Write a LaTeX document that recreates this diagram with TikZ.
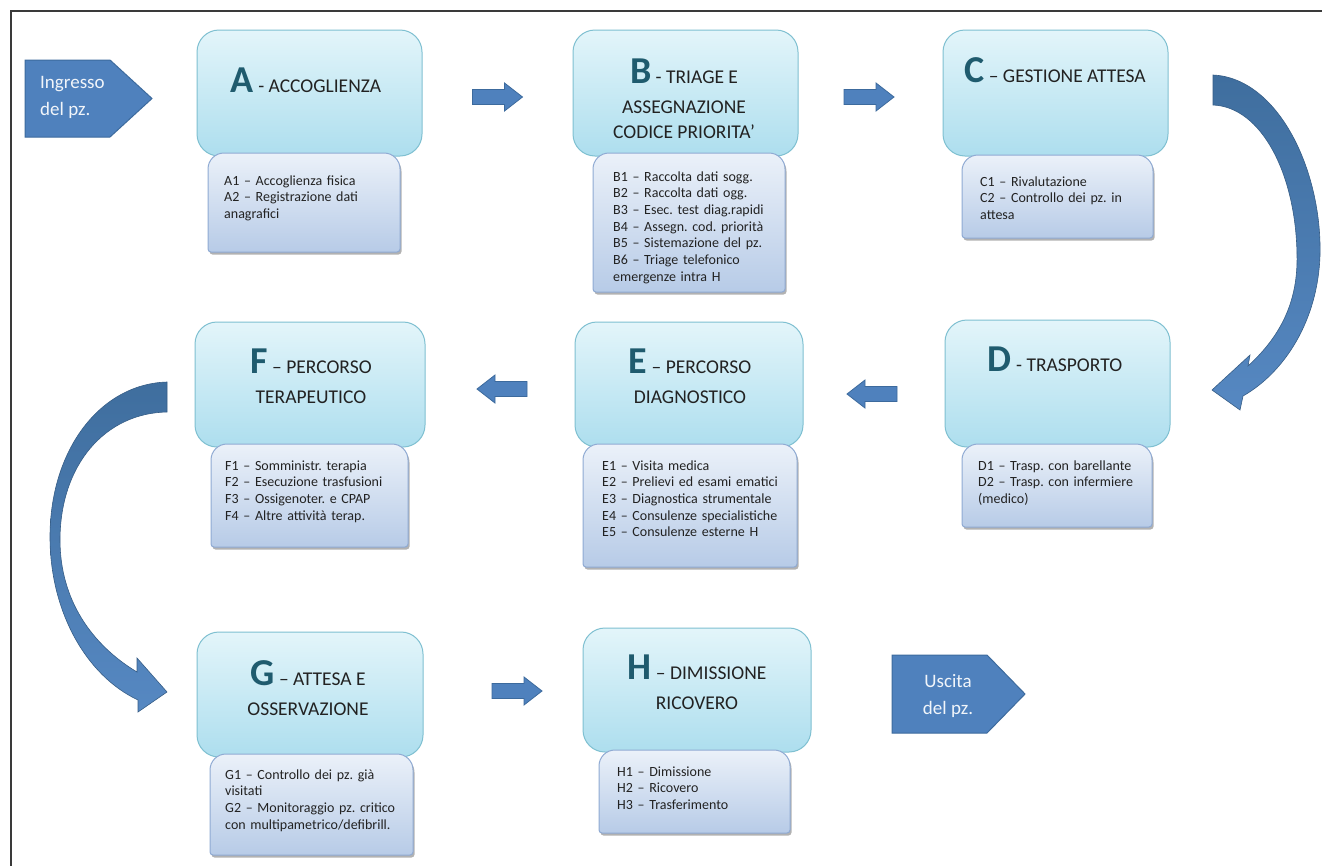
\documentclass[tikz,border=0pt]{standalone}
\usepackage{fontspec}
\setmainfont{Carlito}
\usetikzlibrary{shadows}
\frenchspacing
\definecolor{mainT}{HTML}{E3F5FA}
\definecolor{mainB}{HTML}{ADDEEE}
\definecolor{mainD}{HTML}{7FC0D1}
\definecolor{subT}{HTML}{EBF1F9}
\definecolor{subB}{HTML}{B7CBE7}
\definecolor{subD}{HTML}{8FAAD3}
\definecolor{arrF}{HTML}{4F81BD}
\definecolor{arrD}{HTML}{3C6A9D}
\definecolor{curvT}{HTML}{3F6E9E}
\definecolor{curvB}{HTML}{5688C2}
\definecolor{letterC}{HTML}{1F5B6E}
\definecolor{txt}{HTML}{222222}
\definecolor{frameC}{HTML}{3A3A3A}
\tikzset{
 mainbox/.style={draw=mainD, line width=1pt, rounded corners=22pt, top color=mainT, bottom color=mainB, inner sep=0pt},
 subbox/.style={draw=subD, line width=1pt, top color=subT, bottom color=subB, drop shadow={shadow xshift=1.5pt, shadow yshift=-2.5pt, opacity=0.3, fill=black}},
 title/.style={anchor=north, align=center, inner sep=0pt, text=txt, font=\fontsize{19.5}{25}\selectfont},
 subtext/.style={anchor=base west, align=left, inner sep=0pt, text=txt, text width=200pt, font=\fontsize{14}{16.7}\selectfont\frenchspacing},
 blockarrow/.style={fill=arrF, draw=arrD, line width=0.8pt, line join=miter},
 curvearrow/.style={top color=curvT, bottom color=curvB, draw=curvT!85!black, line width=0.6pt},
 pent/.style={fill=arrF, draw=arrD, line width=1pt},
 penttext/.style={inner sep=0pt, text=white!92!arrF, font=\fontsize{19}{27}\selectfont},
}
\newcommand\bigL[1]{{\fontsize{38}{38}\selectfont\bfseries\color{letterC}#1}}
\newcommand\subpanel[4]{\path[subbox] (#1,{(#2+#4)/2}) [rounded corners=16pt] -- (#1,#2) -- (#3,#2) -- (#3,{(#2+#4)/2}) [rounded corners=3pt] -- (#3,#4) -- (#1,#4) -- cycle;}
\newcommand\rarrowat[2]{\draw[blockarrow, shift={(#1,#2)}] (-25,-7.5) -- (7,-7.5) -- (7,-14) -- (25,0) -- (7,14) -- (7,7.5) -- (-25,7.5) -- cycle;}
\newcommand\larrowat[2]{\draw[blockarrow, shift={(#1,#2)}, xscale=-1] (-25,-7.5) -- (7,-7.5) -- (7,-14) -- (25,0) -- (7,14) -- (7,7.5) -- (-25,7.5) -- cycle;}
\begin{document}
\begin{tikzpicture}[x=1pt, y=-1pt]
\useasboundingbox (0,0) rectangle (1322,865);
\fill[white] (0,0) rectangle (1322,865);
\draw[frameC, line width=1.5pt] (11,866) -- (11,11) -- (1323,11);

% entry / exit
\draw[pent] (25,60) -- (110,60) -- (152,98.5) -- (110,137) -- (25,137) -- cycle;
\node[penttext, anchor=base west, align=left] (in) at (40,115) {Ingresso\\del pz.};
\draw[pent] (892,655) -- (987,655) -- (1025,694) -- (987,733) -- (892,733) -- cycle;
\node[penttext, anchor=base, align=center] (out) at (948,714) {Uscita\\del pz.};

% main boxes
\node[mainbox, minimum width=225pt, minimum height=126pt] (A) at (309.5,93) {};
\node[mainbox, minimum width=225pt, minimum height=126pt] (B) at (685.5,93) {};
\node[mainbox, minimum width=225pt, minimum height=126pt] (C) at (1055.5,93) {};
\node[mainbox, minimum width=225pt, minimum height=127pt] (D) at (1057.5,383.5) {};
\node[mainbox, minimum width=228pt, minimum height=125pt] (E) at (689,384.5) {};
\node[mainbox, minimum width=230pt, minimum height=125pt] (F) at (310,384.5) {};
\node[mainbox, minimum width=226pt, minimum height=125pt] (G) at (310,694.5) {};
\node[mainbox, minimum width=228pt, minimum height=124pt] (H) at (697,690) {};

% sub panels
\subpanel{208}{153}{400}{252}
\subpanel{593}{153}{785}{292}
\subpanel{962}{155}{1153}{238}
\subpanel{962}{444}{1152}{527}
\subpanel{583}{444}{797}{567}
\subpanel{211}{444}{408}{547}
\subpanel{210}{754}{413}{855}
\subpanel{599}{750}{790}{833}

% titles
\node[title] (At) at (306,68) {\bigL{A} - ACCOGLIENZA};
\node[title] (Bt) at (684,59) {\bigL{B} - TRIAGE E\\[5pt]ASSEGNAZIONE\\CODICE PRIORITA’};
\node[title] (Ct) at (1055,57) {\bigL{C} – GESTIONE ATTESA};
\node[title] (Dt) at (1055,347) {\bigL{D} - TRASPORTO};
\node[title] (Et) at (690,349) {\bigL{E} – PERCORSO\\[5pt]DIAGNOSTICO};
\node[title] (Ft) at (311,349) {\bigL{F} – PERCORSO\\[5pt]TERAPEUTICO};
\node[title] (Gt) at (308,660) {\bigL{G} – ATTESA E\\[5pt]OSSERVAZIONE};
\node[title] (Ht) at (697,655) {\bigL{H} – DIMISSIONE\\[5pt]RICOVERO};

% sub texts
\node[subtext] (A1) at (224,185) {A1 – Accoglienza fisica\\A2 – Registrazione dati\\anagrafici};
\node[subtext] (B1) at (613,181) {B1 – Raccolta dati sogg.\\B2 – Raccolta dati ogg.\\B3 – Esec. test diag.rapidi\\B4 – Assegn. cod. priorità\\B5 – Sistemazione del pz.\\B6 – Triage telefonico\\emergenze intra H};
\node[subtext] (C1) at (980,186) {C1 – Rivalutazione\\C2 – Controllo dei pz. in\\attesa};
\node[subtext] (D1) at (978,470) {D1 – Trasp. con barellante\\D2 – Trasp. con infermiere\\(medico)};
\node[subtext] (E1) at (602,470) {E1 – Visita medica\\E2 – Prelievi ed esami ematici\\E3 – Diagnostica strumentale\\E4 – Consulenze specialistiche\\E5 – Consulenze esterne H};
\node[subtext] (F1) at (225,470) {F1 – Somministr. terapia\\F2 – Esecuzione trasfusioni\\F3 – Ossigenoter. e CPAP\\F4 – Altre attività terap.};
\node[subtext] (G1) at (225,779) {G1 – Controllo dei pz. già\\visitati\\G2 – Monitoraggio pz. critico\\con multipametrico/defibrill.};
\node[subtext] (H1) at (617,776) {H1 – Dimissione\\H2 – Ricovero\\H3 – Trasferimento};

% straight block arrows
\rarrowat{497.5}{97}
\rarrowat{869}{97}
\larrowat{872}{394}
\larrowat{502}{389}
\rarrowat{517}{691}

% curved arrow C -> D
\path[curvearrow] (1213,105) -- (1213,75) .. controls (1278,78) and (1322,170) .. (1320,255)
  .. controls (1318,320) and (1285,372) .. (1243,396) -- (1240,410) -- (1212,390) -- (1250,355) -- (1248,366)
  .. controls (1282,335) and (1298,300) .. (1297,255) .. controls (1296,175) and (1262,107) .. (1213,105) -- cycle;

% curved arrow F -> G
\path[curvearrow] (167,382) .. controls (100,384) and (50,450) .. (50,537)
  .. controls (50,610) and (85,675) .. (138,700) -- (138,712) -- (167,692) -- (137,658) -- (137,672)
  .. controls (92,645) and (60,600) .. (60,540) .. controls (60,465) and (105,413) .. (167,412) -- cycle;
\end{tikzpicture}
\end{document}
